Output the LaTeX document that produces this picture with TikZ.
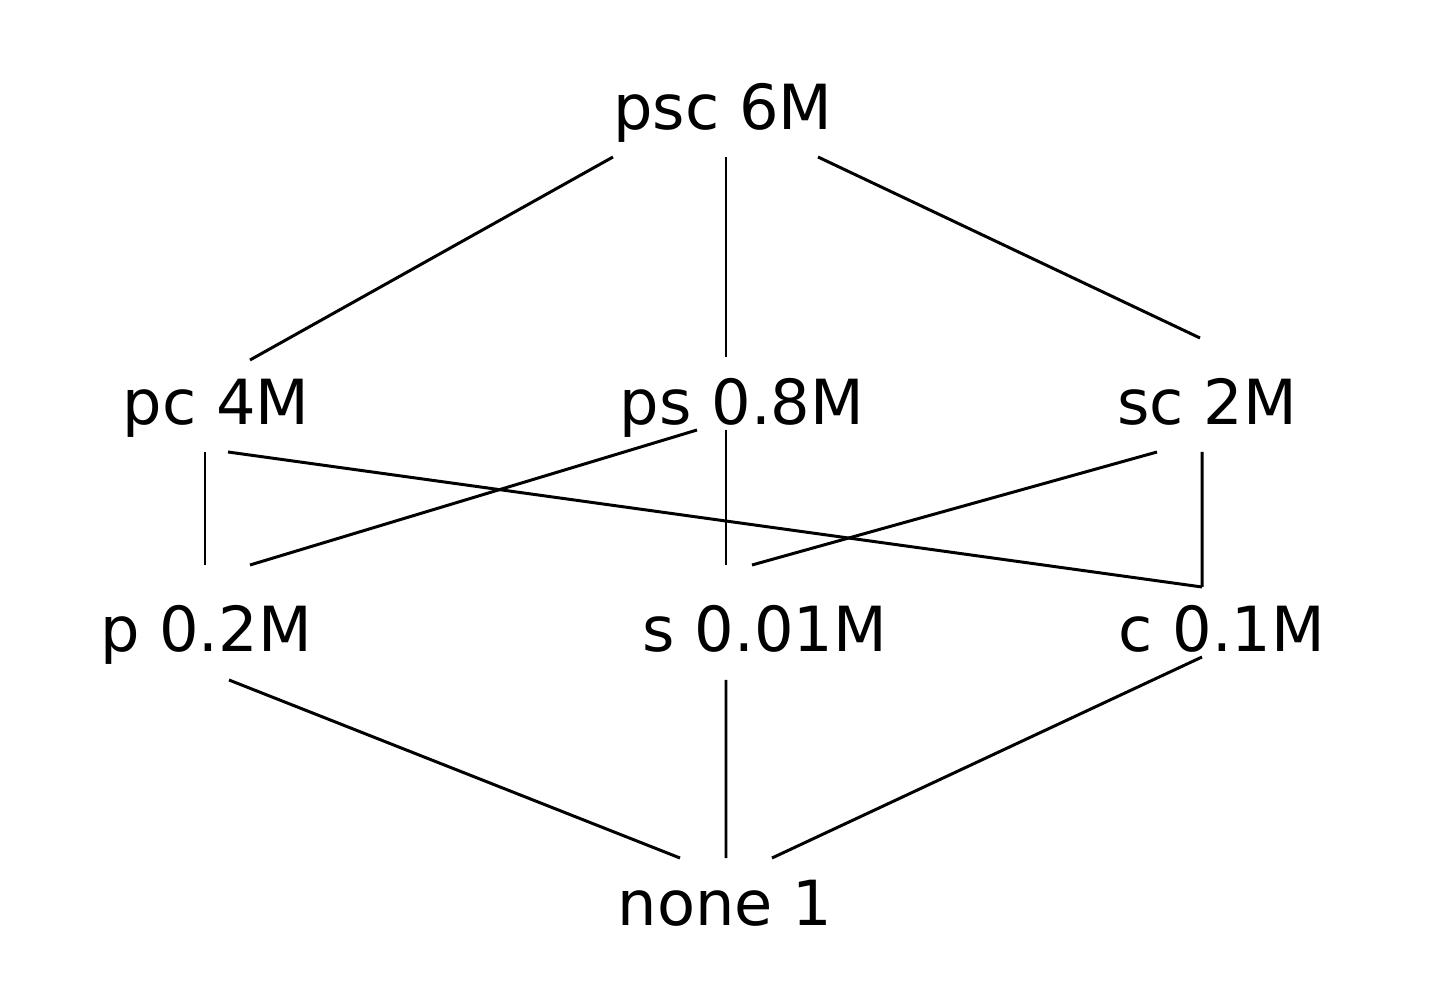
\documentclass[tikz,border=0pt]{standalone}
\usepackage{fontspec}
\setmainfont{DejaVu Sans}
\usepackage{xcolor}
\usepackage{tikz}
\usetikzlibrary{positioning,calc}
\tikzset{%
  latticeNode/.style={%
    anchor=base,
    inner sep=0pt,
    font=\fontsize{17.7}{21}\selectfont
  },
  latticeLine/.style={%
    line width=0.85pt,
    color=black
  }
}
\begin{document}
\begin{tikzpicture}
            \useasboundingbox (0,0) rectangle (14.37,9.81);
            % top
            \node[latticeNode] (psc) at (7.23,8.51) {psc 6M};
            % pairs
            \node[latticeNode] (pc) at (2.16,5.56) {pc 4M};
            \node[latticeNode] (ps) at (7.42,5.56) {ps 0.8M};
            \node[latticeNode] (sc) at (12.07,5.56) {sc 2M};
            % singles
            \node[latticeNode] (p) at (2.06,3.29) {p 0.2M};
            \node[latticeNode] (s) at (7.65,3.29) {s 0.01M};
            \node[latticeNode] (c) at (12.22,3.29) {c 0.1M};
            % bottom
            \node[latticeNode] (none) at (7.25,0.56) {none 1};

            \draw[latticeLine] ([shift={(-1.10,-0.27)}]psc.base) -- ([shift={(0.34,0.65)}]pc.base);
            \draw[latticeLine] ([shift={(0.03,-0.27)}]psc.base) -- ([shift={(-0.16,0.68)}]ps.base);
            \draw[latticeLine] ([shift={(0.95,-0.27)}]psc.base) -- ([shift={(-0.07,0.87)}]sc.base);

            \draw[latticeLine] ([shift={(-0.11,-0.27)}]pc.base) -- ([shift={(-0.01,0.87)}]p.base);
            \draw[latticeLine] ([shift={(0.12,-0.27)}]pc.base) -- ([shift={(-0.20,0.65)}]c.base);
            \draw[latticeLine] ([shift={(-0.45,-0.05)}]ps.base) -- ([shift={(0.44,0.87)}]p.base);
            \draw[latticeLine] ([shift={(-0.16,-0.05)}]ps.base) -- ([shift={(-0.39,0.87)}]s.base);
            \draw[latticeLine] ([shift={(-0.50,-0.27)}]sc.base) -- ([shift={(-0.13,0.87)}]s.base);
            \draw[latticeLine] ([shift={(-0.05,-0.27)}]sc.base) -- ([shift={(-0.20,0.65)}]c.base);

            \draw[latticeLine] ([shift={(0.23,-0.28)}]p.base) -- ([shift={(-0.45,0.67)}]none.base);
            \draw[latticeLine] ([shift={(-0.39,-0.28)}]s.base) -- ([shift={(0.01,0.67)}]none.base);
            \draw[latticeLine] ([shift={(-0.20,-0.05)}]c.base) -- ([shift={(0.47,0.67)}]none.base);
        \end{tikzpicture}
\end{document}
